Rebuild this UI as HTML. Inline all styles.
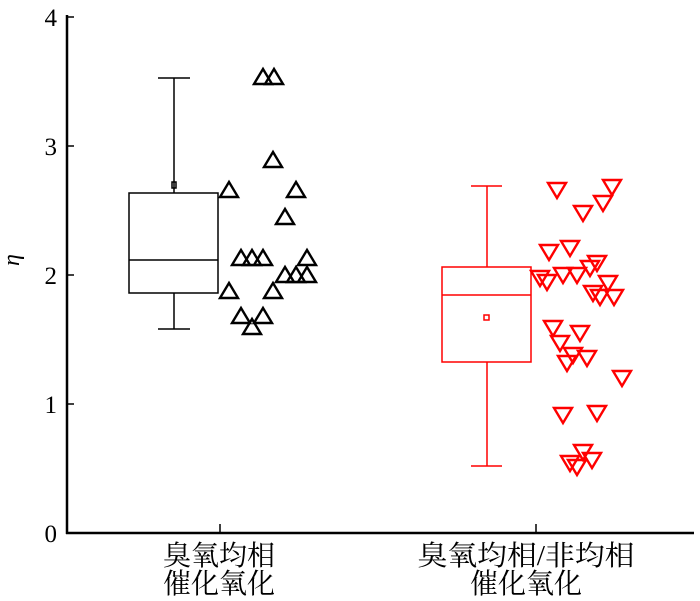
<!DOCTYPE html>
<html><head><meta charset="utf-8"><style>
html,body{margin:0;padding:0;background:#fff;}
svg{display:block;}
</style></head><body>
<svg width="700" height="601" xmlns="http://www.w3.org/2000/svg">
<defs>
<polygon id="up" points="0,-8 -9,7 9,7" fill="none" stroke="#000" stroke-width="2.4"/>
<polygon id="dn" points="-9,-7 9,-7 0,8" fill="none" stroke="#f00" stroke-width="2.4"/>
</defs>
<g stroke="#000" stroke-width="2.5" fill="none">
<line x1="67" y1="15" x2="67" y2="534"/>
<line x1="66" y1="533" x2="694" y2="533"/>
</g>
<g stroke="#000" stroke-width="1.5">
<line x1="67" y1="17" x2="74" y2="17"/>
<line x1="67" y1="146" x2="74" y2="146"/>
<line x1="67" y1="275" x2="74" y2="275"/>
<line x1="67" y1="404" x2="74" y2="404"/>
<line x1="220" y1="533" x2="220" y2="524"/>
<line x1="536" y1="533" x2="536" y2="524"/>
</g>
<g font-family="Liberation Serif, serif" font-size="25" text-anchor="end" fill="#000">
<text x="57" y="26">4</text>
<text x="57" y="155">3</text>
<text x="57" y="284">2</text>
<text x="57" y="413">1</text>
<text x="57" y="542">0</text>
</g>
<text x="14" y="265" font-family="Liberation Serif, serif" font-style="italic" font-size="24" text-anchor="middle" transform="rotate(-90 14 260)">η</text>
<g font-family="Liberation Serif, 'Noto Serif CJK SC', serif" font-size="28" text-anchor="middle" fill="#000">
<text x="219" y="565">臭氧均相</text>
<text x="219" y="593">催化氧化</text>
<text x="526" y="565" textLength="217" lengthAdjust="spacingAndGlyphs">臭氧均相/非均相</text>
<text x="526" y="593">催化氧化</text>
</g>
<g stroke="#000" stroke-width="1.5" fill="none">
<rect x="129" y="193" width="89" height="100"/>
<line x1="129" y1="260" x2="218" y2="260"/>
<line x1="174" y1="78" x2="174" y2="193"/>
<line x1="174" y1="293" x2="174" y2="329"/>
<line x1="158" y1="78" x2="190" y2="78"/>
<line x1="158" y1="329" x2="190" y2="329"/>
<rect x="172" y="182" width="4" height="6"/>
</g>
<g>
<use href="#up" x="263" y="77"/><use href="#up" x="274" y="77"/>
<use href="#up" x="273" y="160"/><use href="#up" x="229" y="190"/>
<use href="#up" x="296" y="190"/><use href="#up" x="285" y="217"/>
<use href="#up" x="241" y="258"/><use href="#up" x="252" y="258"/>
<use href="#up" x="263" y="258"/><use href="#up" x="307" y="258"/>
<use href="#up" x="285" y="275"/><use href="#up" x="296" y="275"/>
<use href="#up" x="307" y="275"/><use href="#up" x="229" y="291"/>
<use href="#up" x="273" y="291"/><use href="#up" x="241" y="316"/>
<use href="#up" x="263" y="316"/><use href="#up" x="252" y="327"/>
</g>
<g stroke="#f00" stroke-width="1.5" fill="none">
<rect x="442" y="267" width="89" height="95"/>
<line x1="442" y1="295" x2="531" y2="295"/>
<line x1="487" y1="186" x2="487" y2="267"/>
<line x1="487" y1="362" x2="487" y2="466"/>
<line x1="471" y1="186" x2="502" y2="186"/>
<line x1="471" y1="466" x2="502" y2="466"/>
<rect x="484" y="315" width="5" height="5"/>
</g>
<g>
<use href="#dn" x="557" y="190"/><use href="#dn" x="612" y="187"/>
<use href="#dn" x="603" y="203"/><use href="#dn" x="583" y="213"/>
<use href="#dn" x="549" y="252"/><use href="#dn" x="570" y="248"/>
<use href="#dn" x="597" y="263"/><use href="#dn" x="590" y="268"/>
<use href="#dn" x="540" y="278"/><use href="#dn" x="547" y="282"/>
<use href="#dn" x="563" y="275"/><use href="#dn" x="577" y="275"/>
<use href="#dn" x="608" y="283"/><use href="#dn" x="593" y="293"/>
<use href="#dn" x="600" y="297"/><use href="#dn" x="614" y="297"/>
<use href="#dn" x="553" y="328"/><use href="#dn" x="580" y="333"/>
<use href="#dn" x="560" y="343"/><use href="#dn" x="573" y="355"/>
<use href="#dn" x="567" y="363"/><use href="#dn" x="587" y="358"/>
<use href="#dn" x="622" y="378"/><use href="#dn" x="563" y="415"/>
<use href="#dn" x="597" y="413"/><use href="#dn" x="583" y="452"/>
<use href="#dn" x="570" y="463"/><use href="#dn" x="577" y="467"/>
<use href="#dn" x="592" y="460"/>
</g>
</svg>
</body></html>
